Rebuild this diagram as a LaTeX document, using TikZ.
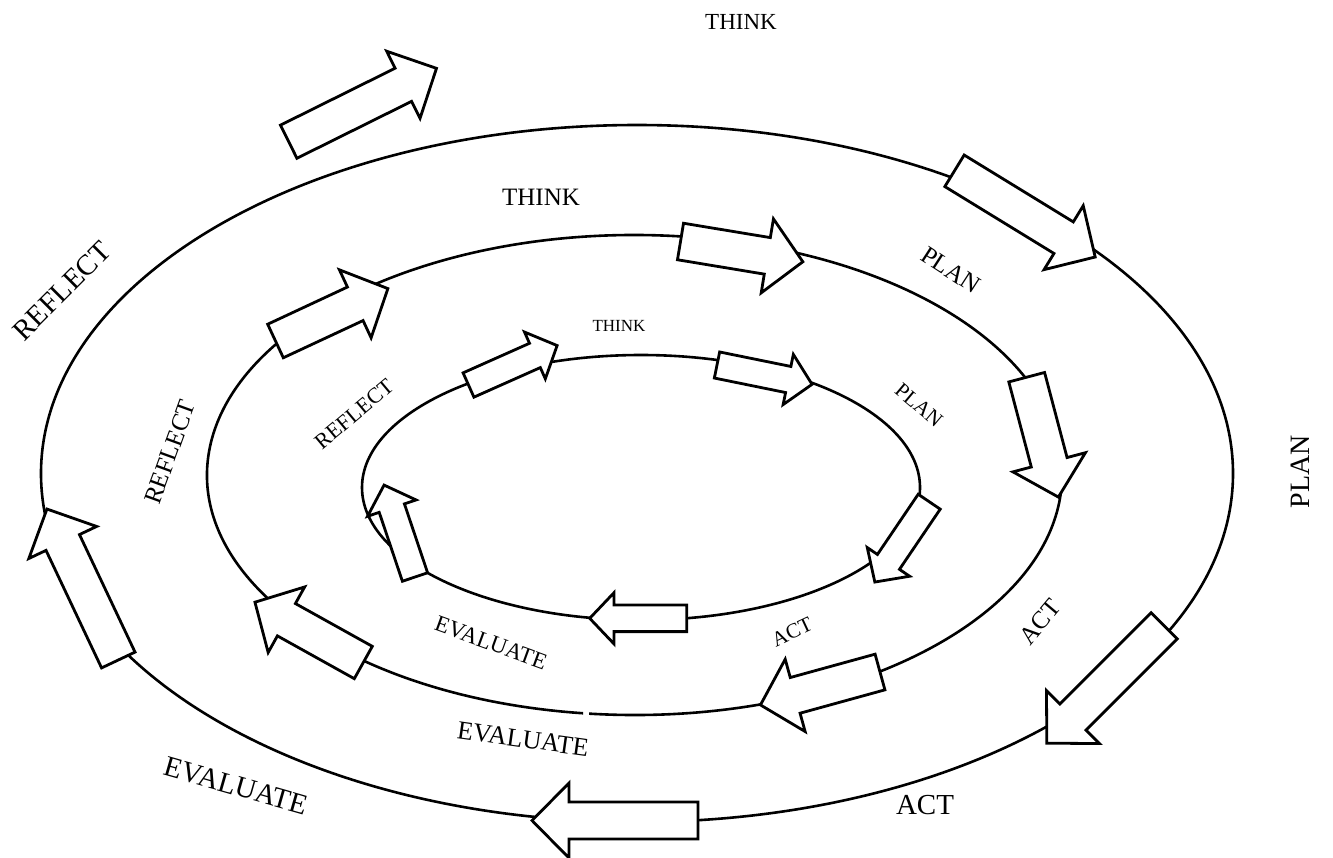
\documentclass[tikz,border=0pt]{standalone}
\usepackage{fontspec}
\setmainfont{Liberation Serif}
\newcommand{\fs}[1]{\fontsize{#1}{#1}\selectfont}
% block arrow: #1 tail centre, #2 direction (deg), #3 total length,
% #4 shaft half width, #5 head half width, #6 head length
\newcommand{\blockarrow}[6]{%
  \draw[barrow, shift={#1}, rotate=#2]
    (0,-#4) -- ({#3-#6},-#4) -- ({#3-#6},-#5) -- (#3,0)
    -- ({#3-#6},#5) -- ({#3-#6},#4) -- (0,#4) -- cycle;}
\newcommand{\bigarrow}[3]{\blockarrow{#1}{#2}{#3}{18.5}{37.5}{37}}
\newcommand{\midarrow}[2]{\blockarrow{#1}{#2}{124}{18.5}{37.5}{36}}
\newcommand{\smallarrow}[2]{\blockarrow{#1}{#2}{97}{13.3}{25.6}{24.3}}
\tikzset{
  ring/.style={draw=black, line width=1.3pt},
  barrow/.style={draw=black, fill=white, line width=1.4pt, line join=miter},
  lbl/.style={inner sep=0pt, text=black},
}
\begin{document}
\begin{tikzpicture}[x=0.5pt, y=-0.5pt]
\useasboundingbox (0,0) rectangle (1333,857);

% the three cycles (the middle one has a small break at the bottom)
\draw[ring] (637,473.5) ellipse [x radius=596, y radius=348.5];
\draw[ring] (634.5,475) ++(96.9:427.5 and 240)
  arc [start angle=96.9, end angle=456.1, x radius=427.5, y radius=240];
\draw[ring] (641,487.5) ellipse [x radius=279, y radius=132.5];

% outer cycle arrows
\bigarrow{(288.7,141.7)}{26.4}{165}
\bigarrow{(954.5,170.8)}{-31.5}{165}
\bigarrow{(1164.2,625.8)}{-135}{166}
\bigarrow{(698,820.5)}{180}{166}
\bigarrow{(118.3,660)}{115.3}{167}

% middle cycle arrows
\midarrow{(680.5,241.5)}{-9.4}
\midarrow{(1026.7,377.2)}{-75.2}
\midarrow{(880,672)}{-164.6}
\midarrow{(363.3,662.5)}{150.9}
\midarrow{(275.5,341)}{25}

% inner cycle arrows
\smallarrow{(468.5,385)}{24}
\smallarrow{(717,365)}{-11.5}
\smallarrow{(929.2,501.7)}{-124.1}
\smallarrow{(686.7,618.3)}{180}
\smallarrow{(415,577)}{108.6}

% outer labels
\node[lbl, font=\fs{11.5}] (think3) at (741,22) {THINK};
\node[lbl, font=\fs{14}, rotate=90] (plan3) at (1300,472) {PLAN};
\node[lbl, font=\fs{14.5}] (act3) at (925,805) {ACT};
\node[lbl, font=\fs{14.5}, rotate=-16] (eval3) at (236,786) {EVALUATE};
\node[lbl, font=\fs{14.5}, rotate=45] (refl3) at (62,291) {REFLECT};

% middle labels
\node[lbl, font=\fs{12.5}] (think2) at (541,197) {THINK};
\node[lbl, font=\fs{12.5}, rotate=-33] (plan2) at (951,270) {PLAN};
\node[lbl, font=\fs{12.5}, rotate=50] (act2) at (1040,622) {ACT};
\node[lbl, font=\fs{13}, rotate=-8] (eval2) at (523,739) {EVALUATE};
\node[lbl, font=\fs{12.5}, rotate=70] (refl2) at (170,452) {REFLECT};

% inner labels
\node[lbl, font=\fs{8.5}] (think1) at (619,326) {THINK};
\node[lbl, font=\fs{10.5}, rotate=-40] (plan1) at (919,405) {PLAN};
\node[lbl, font=\fs{10.5}, rotate=25] (act1) at (792,632) {ACT};
\node[lbl, font=\fs{11.5}, rotate=-20] (eval1) at (491,643) {EVALUATE};
\node[lbl, font=\fs{11}, rotate=40] (refl1) at (354,414) {REFLECT};
\end{tikzpicture}
\end{document}
